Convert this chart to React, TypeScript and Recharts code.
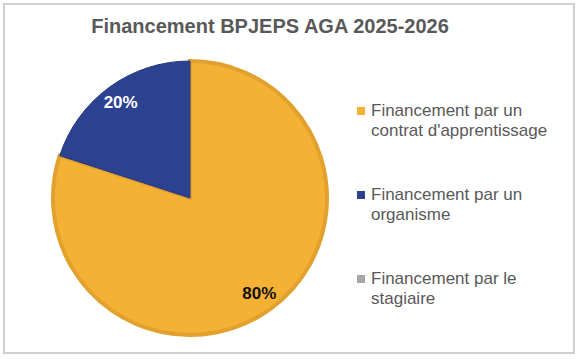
import { Cell, Legend, Pie, PieChart } from 'recharts'

const categories = [
  'Financement par un contrat d\'apprentissage',
  'Financement par un organisme',
  'Financement par le stagiaire',
]
const legendLines = [
  ['Financement par un', "contrat d'apprentissage"],
  ['Financement par un', 'organisme'],
  ['Financement par le', 'stagiaire'],
]
const shares = [80, 20, 0]
const FILLS = ['#F4B133', '#2C4190', '#A5A5A5']
const STROKES = ['#E2A12E', '#26387D', 'none']
const LABEL_COLORS = ['#111111', '#ffffff', '#111111']

const FONT = '"Liberation Sans", Arial, sans-serif'
const RAD = Math.PI / 180

const data = categories.map((name, i) => ({ name, value: shares[i] }))

const renderLabel = (p: any) => {
  if (!p.value) return null
  const r = p.outerRadius - 19
  const x = p.cx + r * Math.cos(-p.midAngle * RAD)
  const y = p.cy + r * Math.sin(-p.midAngle * RAD)
  return (
    <text x={x} y={y} textAnchor="middle" dominantBaseline="central"
      fill={LABEL_COLORS[p.index]} fontFamily={FONT} fontWeight="bold" fontSize={17}>
      {`${p.value}%`}
    </text>
  )
}

const LegendBox = () => (
  <div style={{ fontFamily: FONT, fontSize: 17, color: '#595959', lineHeight: '20px' }}>
    {legendLines.map((lines, i) => (
      <div key={i} style={{ position: 'relative', paddingLeft: 14, marginBottom: i < 2 ? 44 : 0 }}>
        <span style={{ position: 'absolute', left: 0, top: 6, width: 8, height: 8, background: FILLS[i] }} />
        {lines.map((l, j) => <div key={j}>{l}</div>)}
      </div>
    ))}
  </div>
)

export default function App() {
  return (
    <div style={{ position: 'absolute', left: 0, top: 0, width: 580, height: 359, background: '#fff' }}>
      <div style={{
        position: 'absolute', left: 0, top: 15, width: 540, textAlign: 'center',
        fontFamily: FONT, fontWeight: 'bold', fontSize: 20, color: '#595959',
      }}>
        Financement BPJEPS AGA 2025-2026
      </div>
      <div style={{ position: 'absolute', left: 0, top: 0 }}>
        <PieChart width={580} height={359}>
          <Pie data={data} dataKey="value" nameKey="name" cx={185} cy={193} outerRadius={137}
            startAngle={90} endAngle={-270} isAnimationActive={false}
            label={renderLabel} labelLine={false}>
            {data.map((_, i) => (
              <Cell key={i} fill={FILLS[i]} stroke={STROKES[i]} strokeWidth={i === 0 ? 4 : 1} />
            ))}
          </Pie>
          <Legend layout="vertical" align="right" verticalAlign="top" content={LegendBox}
            wrapperStyle={{ left: 357, top: 101, width: 218 }} />
        </PieChart>
      </div>
      <div style={{
        position: 'absolute', left: 3, top: 3, width: 572, height: 351, boxSizing: 'border-box',
        border: '2px solid #d0d0d0', zIndex: 2, pointerEvents: 'none',
      }} />
    </div>
  )
}
